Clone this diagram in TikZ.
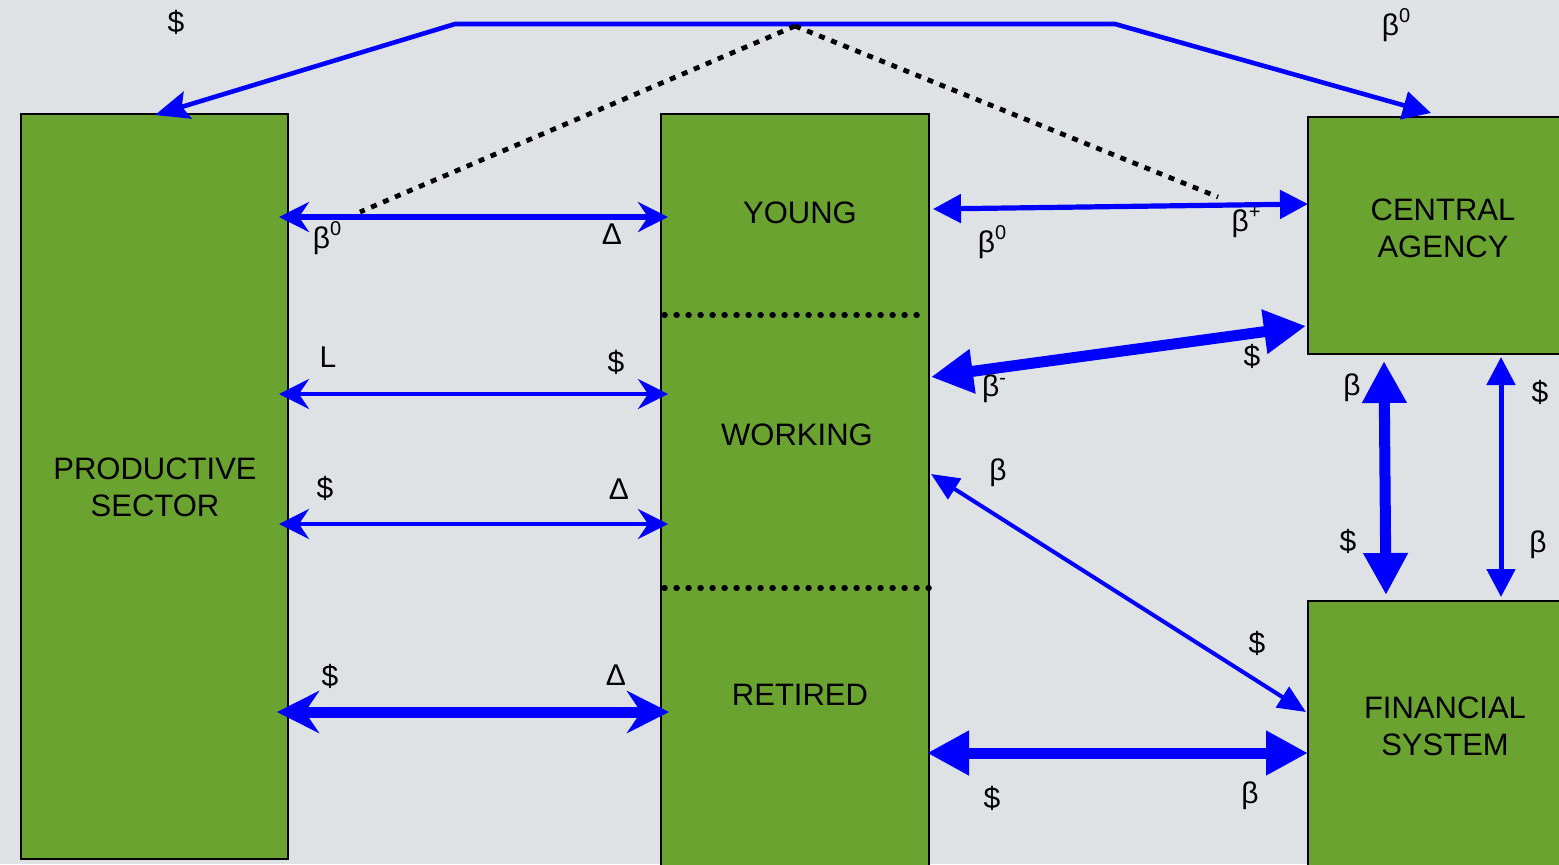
\documentclass[tikz,border=0pt]{standalone}
\usepackage{fontspec}
\setmainfont{Liberation Sans}
\usetikzlibrary{arrows.meta}
\definecolor{bg}{HTML}{DFE2E5}
\definecolor{grn}{HTML}{6AA330}
\definecolor{blu}{HTML}{0000FF}
\newcommand{\bsup}[1]{β\raisebox{0.8ex}{\fontsize{10}{12}\selectfont #1}}
\begin{document}
\begin{tikzpicture}[x=0.5pt,y=-0.5pt,
  box/.style={draw=black, line width=1.2pt, fill=grn, inner sep=0pt, anchor=north west},
  btext/.style={font=\fontsize{15.5}{18.5}\selectfont, align=center, inner sep=0pt},
  lab/.style={font=\fontsize{15}{18}\selectfont, inner sep=0pt},
  dotl/.style={black, line width=2.6pt, line cap=round, dash pattern=on 0.6pt off 5.4pt},
  sqdot/.style={black, line width=2.4pt, dash pattern=on 3pt off 3.5pt},
  concA/.style={blu, line width=#1, {Stealth[length=15pt,width=15pt,inset=5pt]}-{Stealth[length=15pt,width=15pt,inset=5pt]}},
  concB/.style={blu, line width=#1, {Stealth[length=21pt,width=21pt,inset=7pt]}-{Stealth[length=21pt,width=21pt,inset=7pt]}},
  triA/.style={blu, line width=#1, {Triangle[length=14pt,width=14pt]}-{Triangle[length=14pt,width=14pt]}},
  triB/.style={blu, line width=#1, {Triangle[length=21pt,width=21pt]}-{Triangle[length=21pt,width=21pt]}},
  triC/.style={blu, line width=#1, {Triangle[length=14pt,width=12pt]}-{Triangle[length=14pt,width=12pt]}},
  ]
\fill[bg] (0,0) rectangle (1559,864);
\useasboundingbox (0,0) rectangle (1559,864);

% boxes
\node[box, minimum width=133.5pt, minimum height=372.5pt] (ps) at (20,113) {};
\node[box, minimum width=134pt, minimum height=380pt] (mid) at (660,113) {};
\node[box, minimum width=130pt, minimum height=118.5pt] (ca) at (1307,116) {};
\node[box, minimum width=130pt, minimum height=140pt] (fs) at (1307,600) {};

% box texts
\node[btext] (pst) at (155,487) {PRODUCTIVE\\SECTOR};
\node[btext] (yt) at (800,213) {YOUNG};
\node[btext] (wt) at (797,435) {WORKING};
\node[btext] (rt) at (800,695) {RETIRED};
\node[btext] (cat) at (1443,228) {CENTRAL\\AGENCY};
\node[btext] (fst) at (1445,726) {FINANCIAL\\SYSTEM};

% dotted separators in middle box
\coordinate (s1a) at (664,315); \coordinate (s1b) at (922,315);
\coordinate (s2a) at (664,588); \coordinate (s2b) at (938,588);
\draw[dotl] (s1a) -- (s1b);
\draw[dotl] (s2a) -- (s2b);

% top connector
\coordinate (tl) at (155,115);
\coordinate (tk1) at (455,24);
\coordinate (tk2) at (1115,24);
\coordinate (tr) at (1431,113);
\draw[blu, line width=2.3pt, {Stealth[length=17pt,width=14pt,inset=3pt]}-{Triangle[length=14pt,width=14pt]}]
  (tl) -- (tk1) -- (tk2) -- (tr);

% dotted diagonal lines
\coordinate (apex) at (795,26);
\coordinate (dl) at (360,212);
\coordinate (dr) at (1218,197);
\draw[sqdot] (apex) -- (dl);
\draw[sqdot] (apex) -- (dr);

% left arrows
\coordinate (a1l) at (279,217); \coordinate (a1r) at (668,217);
\coordinate (a2l) at (279,394); \coordinate (a2r) at (668,394);
\coordinate (a3l) at (279,524); \coordinate (a3r) at (668,524);
\coordinate (a4l) at (277,712); \coordinate (a4r) at (669,712);
\draw[concA=2.6pt] (a1l) -- (a1r);
\draw[concA=2.2pt] (a2l) -- (a2r);
\draw[concA=2.2pt] (a3l) -- (a3r);
\draw[concB=5.5pt] (a4l) -- (a4r);

% right arrows
\coordinate (a5l) at (933,209); \coordinate (a5r) at (1308,204);
\coordinate (a6l) at (931,377); \coordinate (a6r) at (1306,326);
\coordinate (a7l) at (931,474); \coordinate (a7r) at (1306,712);
\coordinate (a8l) at (927,753); \coordinate (a8r) at (1308,753);
\coordinate (a9t) at (1384,361); \coordinate (a9b) at (1386,595);
\coordinate (a10t) at (1501,357); \coordinate (a10b) at (1501,597);
\draw[triA=2.6pt] (a5l) -- (a5r);
\draw[triB=5.5pt] (a6l) -- (a6r);
\draw[triC=2pt] (a7l) -- (a7r);
\draw[triB=5.5pt] (a8l) -- (a8r);
\draw[triB=5.5pt] (a9t) -- (a9b);
\draw[triA=2.5pt] (a10t) -- (a10b);

% labels
\node[lab] (l1) at (176,22) {\$};
\node[lab] (l2) at (1396,25) {\bsup{0}};
\node[lab] (l3) at (327,238) {\bsup{0}};
\node[lab] (l4) at (612,234) {Δ};
\node[lab] (l5) at (328,357) {L};
\node[lab] (l6) at (616,362) {\$};
\node[lab] (l7) at (325,488) {\$};
\node[lab] (l8) at (619,489) {Δ};
\node[lab] (l9) at (330,676) {\$};
\node[lab] (l10) at (616,675) {Δ};
\node[lab] (l11) at (992,242) {\bsup{0}};
\node[lab] (l12) at (1246,222) {\bsup{+}};
\node[lab] (l13) at (994,389) {\bsup{-}};
\node[lab] (l14) at (1252,356) {\$};
\node[lab] (l15) at (998,473) {β};
\node[lab] (l16) at (1257,643) {\$};
\node[lab] (l17) at (992,798) {\$};
\node[lab] (l18) at (1250,796) {β};
\node[lab] (l19) at (1352,388) {β};
\node[lab] (l20) at (1348,541) {\$};
\node[lab] (l21) at (1540,392) {\$};
\node[lab] (l22) at (1538,545) {β};
\end{tikzpicture}
\end{document}
